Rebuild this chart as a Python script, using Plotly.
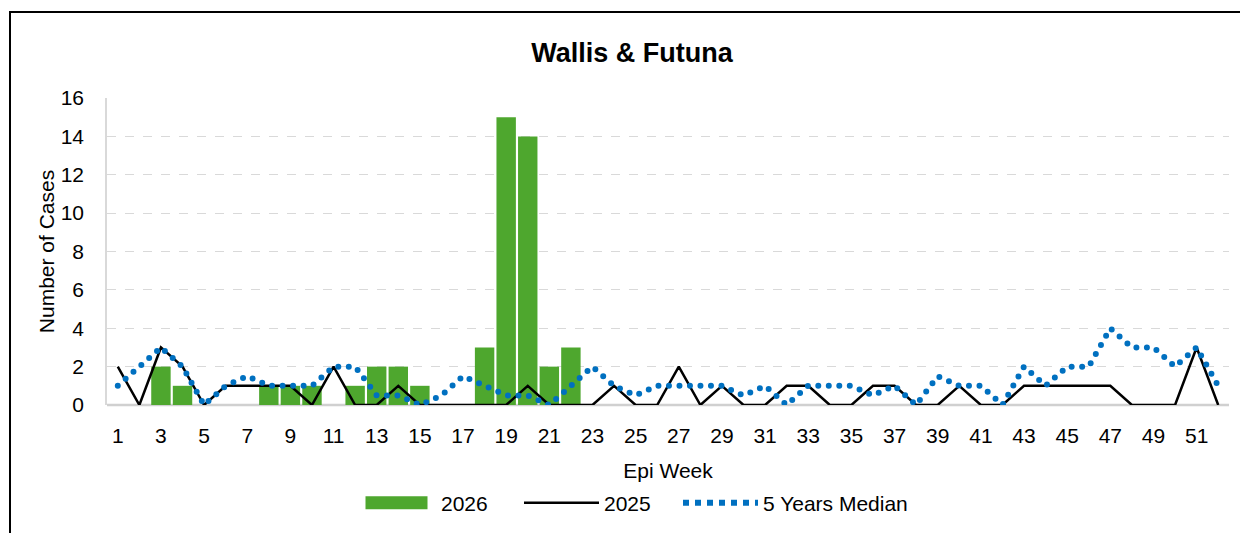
import plotly.graph_objects as go

weeks = list(range(1, 53))

cases_2026 = [None, None, 2, 1, None, None, None, 1, 1, 1, None, 1, 2, 2, 1, None, None, 3, 15, 14, 2, 3] + [None] * 30

cases_2025 = [2, 0, 3, 2, 0, 1, 1, 1, 1, 0, 2, 0, 0, 1, 0, 0, 0, 0, 0, 1,
              0, 0, 0, 1, 0, 0, 2, 0, 1, 0, 0, 1, 1, 0, 0, 1, 1, 0, 0, 1,
              0, 0, 1, 1, 1, 1, 1, 0, 0, 0, 3, 0]

median_5y = [1, 2, 3, 2, 0, 1, 1.5, 1, 1, 1, 2, 2, 0.5, 0.5, 0, 0.5, 1.5, 1, 0.5, 0.5,
             0, 1, 2, 1, 0.5, 1, 1, 1, 1, 0.5, 1, 0, 1, 1, 1, 0.5, 1, 0, 1.5, 1,
             1, 0, 2, 1, 2, 2, 4, 3, 3, 2, 3, 1]

x_ticks = list(range(1, 52, 2))
y_ticks = list(range(0, 17, 2))

FONT = "Liberation Sans, Arial, sans-serif"

fig = go.Figure()
fig.add_trace(go.Bar(x=weeks, y=cases_2026, name="2026", legend="legend",
                     marker=dict(color="#4EA72E", line=dict(width=0))))
fig.add_trace(go.Scatter(x=weeks, y=cases_2025, name="2025", mode="lines", legend="legend2",
                         line=dict(color="#000000", width=2.5)))
fig.add_trace(go.Scatter(x=weeks, y=median_5y, name="5 Years Median", mode="lines", legend="legend3",
                         line=dict(color="#0070C0", width=6, dash="dot")))

# plot area in pixels: x 107..1229, y 98..405
W, H = 1240, 533
L, R, T, B = 107, 11, 98, 128
pw = W - L - R
ph = H - T - B

def px_x(x):
    return (x - L) / pw

def px_y(y):
    return (H - B - y) / ph

def leg(xpx):
    return dict(orientation="h", x=xpx / W, xanchor="left", xref="container",
                y=1 - 503 / H, yref="container", yanchor="middle",
                font=dict(size=21), itemwidth=75, bgcolor="rgba(0,0,0,0)")

fig.update_layout(
    width=W, height=H,
    margin=dict(l=L, r=R, t=T, b=B, autoexpand=False),
    paper_bgcolor="white", plot_bgcolor="white",
    font=dict(family=FONT, size=21, color="#000000"),
    title=dict(text="<b>Wallis & Futuna</b>", x=632 / W, xanchor="center",
               y=1 - 53 / H, yanchor="middle", font=dict(size=27, family=FONT)),
    bargap=0.1,
    showlegend=True,
    legend=leg(356),
    legend2=leg(519),
    legend3=leg(678),
    xaxis=dict(range=[0.5, 52.5], tickmode="array", tickvals=x_ticks,
               ticktext=[str(v) for v in x_ticks], showgrid=False, zeroline=False,
               showline=False, ticks="", ticklabelstandoff=16, automargin=False,
               title=dict(text="Epi Week", font=dict(size=21), standoff=18)),
    yaxis=dict(range=[0, 16], tickmode="array", tickvals=y_ticks,
               showgrid=True, gridcolor="#D9D9D9", griddash="dash", gridwidth=1,
               zeroline=False, showline=True, linecolor="#D9D9D9", linewidth=1.5,
               ticks="", ticklabelstandoff=17, automargin=False,
               title=dict(text="Number of Cases", font=dict(size=21), standoff=0)),
    shapes=[
        dict(type="line", xref="paper", yref="paper", x0=0, x1=1, y0=0, y1=0,
             line=dict(color="#D0D0D0", width=2.5), layer="below"),
        dict(type="rect", xref="paper", yref="paper",
             x0=px_x(10), x1=px_x(1260), y0=px_y(560), y1=px_y(12),
             line=dict(color="#000000", width=2), fillcolor="rgba(0,0,0,0)"),
    ],
)

post = """
document.body.style.margin = '0';
var gd = document.getElementById('chart');
function dotify() {
  var tr = gd.querySelectorAll('.scatterlayer .trace');
  if (tr.length > 1) {
    tr[1].querySelectorAll('path.js-line').forEach(function (p) {
      p.style.strokeLinecap = 'round';
      p.style.strokeDasharray = '0px,10.5px';
    });
  }
  gd.querySelectorAll('g.traces').forEach(function (g) {
    var t = g.querySelector('text.legendtext');
    if (!t) return;
    var name = t.textContent;
    if (name === '5 Years Median') {
      g.querySelectorAll('.legendlines path').forEach(function (p) {
        p.style.strokeLinecap = 'round';
        p.style.strokeDasharray = '0px,15px';
      });
    } else if (name === '2026') {
      g.querySelectorAll('.legendpoints path').forEach(function (p) {
        p.setAttribute('d', 'M-33,-6.5H29V6.5H-33Z');
      });
    }
  });
}
dotify();
gd.on('plotly_afterplot', dotify);
"""

fig.write_html("out.html", div_id="chart", post_script=post,
               config={"displayModeBar": False})
